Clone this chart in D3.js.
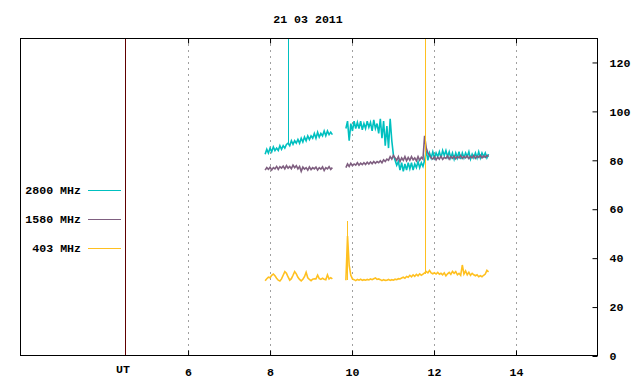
<!DOCTYPE html>
<html>
<head>
<meta charset="utf-8">
<script src="https://cdn.jsdelivr.net/npm/d3@7"></script>
<style>
  html, body { margin: 0; padding: 0; background: #ffffff; }
  svg { display: block; }
  text { font-family: "Liberation Mono", "DejaVu Sans Mono", monospace; font-weight: bold; font-size: 11.6px; fill: #000; }
</style>
</head>
<body>
<svg id="chart" width="640" height="384"></svg>
<script>
// ---------------- DATA ----------------
const title = "21 03 2011";
const seriesNames = ["2800 MHz", "1580 MHz", "403 MHz"];
const seriesColors = ["#00c0c0", "#7f5f80", "#ffc020"];
const xTicks = [6, 8, 10, 12, 14];
const yTicks = [0, 20, 40, 60, 80, 100, 120];
const xDomain = [1.9, 16];
const yDomain = [0, 130];
const utMarker = 4.46;
const utLabel = "UT";

// segments: start hour, step (hours), values
const segStep = 0.04;
const segAStart = 7.88;
const segBStart = 9.85;

const f2800A = [82.5,84.5,83,85,83.5,85.5,84,85,84,86,84.5,86,85,86.5,87,86,88,86.5,88,87,88.5,87,89,87.5,89.5,88,90,88.5,90,89,91,89,91.5,89.5,91,90,92,90,92,90.5,91.5,90.5];
const f2800B = [93,96,88,95,92,96,93,95.5,93,96,92.5,95,93,96,93.5,95.5,92,96.5,93,95,91,97,89,96,86,94,85,97,88,82,80,78,79.5,76,79,75.5,78.5,76,79,76.5,79,76,78.5,77,79.5,77,79,77.5,80,84,80,83,81,83.5,81,83,81.5,83.5,81,84,82,84,81.5,83.5,81,83,80.5,83,81,83.5,80.5,83,81,83,81.5,83.5,80.5,82.5,81,83,81,83.5,81,83,81.5,83,81,82.5];

const f1580A = [76,77,76.3,77.2,76,77,76.5,77.5,76.3,77.4,76.8,77.6,76.5,77.8,76.8,77.5,76.6,78,77,77.8,76.5,77.5,75.5,77.2,76.4,77,76,77.3,76.2,77,76.5,77.2,76,77,76.4,77.3,75.8,77,76.5,77.4,76.3,77];
const f1580B = [77,78.5,77.5,78.8,77.8,78.5,78,79,78,78.8,78.2,79,78.3,79.2,78.5,79.3,78.6,79.5,78.8,79.5,79,79.8,79,80.2,79.5,80.5,80,81.5,80.5,82,81,80,81.5,79.5,81,80,81.5,79.8,81.2,80,81.5,80.2,81,79.8,81.5,80,81.2,80.5,90,85,83,82,81,80.5,81.5,80.2,81.3,80.5,81.6,80.4,81.2,80.8,81.8,80.5,81.5,80.8,81.8,80.6,81.5,81,82,80.8,81.6,81,81.8,80.7,81.6,81,82,80.8,81.7,81.2,82,81,81.8,81.2,82,81.5];

const f403A = [30.8,31.6,32.2,32,33,33.5,32.8,31.8,31,30.7,31.5,33,34.5,33.8,32.3,31,31.6,33,34.5,33.6,32.2,31.3,30.7,31.4,32.4,34.2,32,31.3,30.8,31.4,31.6,31.5,33,31.6,31.3,31.8,31.4,31.2,33.2,31.5,32,31.5];
const f403B = [31,49,37,33,31.5,31.2,30.8,31.3,31,31.4,30.9,31.2,31,31.3,31.1,31.5,31.2,31.6,31.9,31.3,31.5,31.2,30.8,31.2,30.9,31,31.3,30.9,31.2,31,31.4,31.2,31.6,31.5,31.9,32.2,31.8,32.5,32.2,33,32.4,33.2,32.6,33.4,32.8,33.6,33,33.5,34,34.5,34,35,34,33.6,34,33.5,34.2,33.4,33.8,33.2,34,32.8,33.6,34.2,33.4,34.6,33.8,34.5,33.2,33.8,33,37.2,33.5,34.8,33.2,34.2,33,33.8,33.2,32.8,33.2,32.4,32.8,32.4,33,33.5,35,34.4];

// short bursts (single-sample spikes)
const spikeSeries = [0, 1, 2, 2];
const spikeTimes  = [8.44, 11.78, 9.87, 11.79];
const spikeLow    = [86.5, 81, 31, 33.5];
const spikeHigh   = [140, 98.5, 55, 140];

const seriesData = [
  [f2800A, f2800B],
  [f1580A, f1580B],
  [f403A, f403B]
];
const segStarts = [segAStart, segBStart];

// ---------------- CHART ----------------
const svg = d3.select("#chart");
const L = 20, R = 598, T = 38, B = 356;

const x = d3.scaleLinear().domain(xDomain).range([L, R]);
const y = d3.scaleLinear().domain(yDomain).range([B, T]);

// grid
svg.append("g").selectAll("line").data(xTicks).join("line")
  .attr("x1", d => Math.round(x(d)) + 0.5).attr("x2", d => Math.round(x(d)) + 0.5)
  .attr("y1", T).attr("y2", B)
  .attr("stroke", "#a0a0a0").attr("stroke-width", 1)
  .attr("stroke-dasharray", "2,4");

// clip
svg.append("defs").append("clipPath").attr("id", "clip")
  .append("rect").attr("x", L).attr("y", T).attr("width", R - L).attr("height", B - T);

// UT marker
svg.append("line")
  .attr("x1", Math.round(x(utMarker)) + 0.5).attr("x2", Math.round(x(utMarker)) + 0.5)
  .attr("y1", T).attr("y2", B)
  .attr("stroke", "#600000").attr("stroke-width", 1);

// data lines
const line = d3.line().x(d => x(d[0])).y(d => y(d[1]));
const gData = svg.append("g").attr("clip-path", "url(#clip)");
seriesData.forEach((segs, si) => {
  segs.forEach((vals, k) => {
    const pts = vals.map((v, i) => [segStarts[k] + i * segStep, v]);
    gData.append("path")
      .attr("d", line(pts))
      .attr("fill", "none")
      .attr("stroke", seriesColors[si])
      .attr("stroke-width", 1.6);
  });
  spikeSeries.forEach((s, j) => {
    if (s !== si) return;
    const px = Math.round(x(spikeTimes[j])) + 0.5;
    gData.append("line")
      .attr("x1", px).attr("x2", px)
      .attr("y1", y(spikeLow[j])).attr("y2", y(spikeHigh[j]))
      .attr("stroke", seriesColors[si]).attr("stroke-width", 1)
      .attr("shape-rendering", "crispEdges");
  });
});

// border
svg.append("rect").attr("x", L + 0.5).attr("y", T + 0.5)
  .attr("width", R - L - 1).attr("height", B - T - 1)
  .attr("fill", "none").attr("stroke", "#000").attr("stroke-width", 1);

// x axis (bottom, inward ticks) and top ticks
const xAxisB = d3.axisBottom(x).tickValues(xTicks).tickSizeInner(-5).tickSizeOuter(0).tickPadding(12).tickFormat(d3.format("d"));
const gxb = svg.append("g").attr("transform", `translate(0,${B - 0.5})`).call(xAxisB);
gxb.select(".domain").remove();
gxb.selectAll("text").attr("font-size", null).attr("font-family", null);
const xAxisT = d3.axisTop(x).tickValues(xTicks).tickSizeInner(-5).tickSizeOuter(0).tickFormat("");
const gxt = svg.append("g").attr("transform", `translate(0,${T + 0.5})`).call(xAxisT);
gxt.select(".domain").remove();

// UT label
svg.append("text").attr("x", x(utMarker) - 2).attr("y", 373)
  .attr("text-anchor", "middle").text(utLabel);

// y axis right, inward ticks
const yAxis = d3.axisRight(y).tickValues(yTicks).tickSizeInner(-5).tickSizeOuter(0).tickPadding(12).tickFormat(d3.format("d"));
const gy = svg.append("g").attr("transform", `translate(${R - 0.5},0)`).call(yAxis);
gy.select(".domain").remove();
gy.selectAll("text").attr("font-size", null).attr("font-family", null);
svg.selectAll(".tick line").attr("stroke", "#000");

// title
svg.append("text").attr("x", 308).attr("y", 23).attr("text-anchor", "middle").text(title);

// legend
const legY = [190, 219, 248];
const leg = svg.append("g");
seriesNames.forEach((n, i) => {
  leg.append("text").attr("x", 81).attr("y", legY[i] + 4).attr("text-anchor", "end").text(n);
  leg.append("line").attr("x1", 88).attr("x2", 121)
    .attr("y1", legY[i] + 0.5).attr("y2", legY[i] + 0.5)
    .attr("stroke", seriesColors[i]).attr("stroke-width", 1);
});
</script>
</body>
</html>
